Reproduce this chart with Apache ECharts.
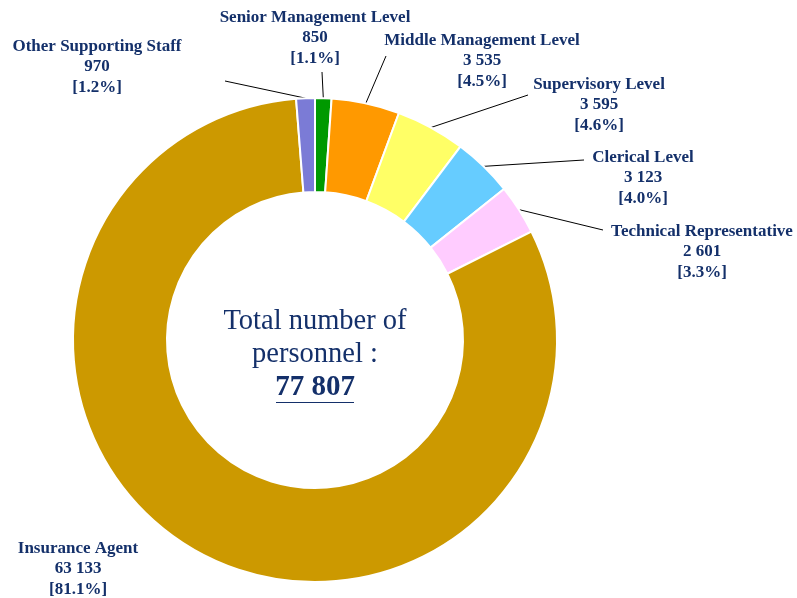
<!DOCTYPE html>
<html>
<head>
<meta charset="utf-8">
<script src="https://cdn.jsdelivr.net/npm/echarts@6/dist/echarts.min.js"></script>
<style>
  html, body { margin: 0; padding: 0; background: #fff; }
  #chart { width: 797px; height: 598px; }
</style>
</head>
<body>
<div id="chart"></div>
<script>
// data
var categories = ['Senior Management Level', 'Middle Management Level', 'Supervisory Level',
    'Clerical Level', 'Technical Representative', 'Insurance Agent', 'Other Supporting Staff'];
var personnel = [850, 3535, 3595, 3123, 2601, 63133, 970];
var colors = ['#009900', '#FF9900', '#FFFF66', '#66CCFF', '#FFCCFF', '#CC9900', '#7B7BD6'];

// label placement (centre of each label block) and label line end
var labelPos = [[315, 38], [482, 61], [599, 105], [643, 178], [702, 252], [78, 569], [97, 67]];
var lineEnd = [[322, 72], [386, 56], [528, 95], [584, 160], [603, 230], null, [225, 81]];

var navy = '#14306A';
var serif = '"Liberation Serif", "Times New Roman", serif';
var total = personnel.reduce(function(a, b) { return a + b; }, 0);

function fmt(n) {
    return String(n).replace(/\B(?=(\d{3})+(?!\d))/g, ' ');
}

var chart = echarts.init(document.getElementById('chart'));

var seriesData = categories.map(function(name, i) {
    return {
        name: name,
        value: personnel[i],
        itemStyle: { color: colors[i] },
        labelLine: { show: lineEnd[i] != null }
    };
});

var option = {
    animation: false,
    series: [{
        type: 'pie',
        center: [315, 340],
        radius: [148, 242],
        startAngle: 90,
        clockwise: true,
        data: seriesData,
        itemStyle: { borderColor: '#fff', borderWidth: 2 },
        label: {
            show: true,
            position: 'outside',
            color: navy,
            fontFamily: serif,
            fontWeight: 'bold',
            fontSize: 17,
            lineHeight: 20.5,
            align: 'center',
            formatter: function(p) {
                return p.name + '\n' + fmt(p.value) + '\n[' + (p.value / total * 100).toFixed(1) + '%]';
            }
        },
        labelLine: {
            show: true,
            length: 20,
            length2: 0,
            lineStyle: { color: '#000', width: 1 }
        },
        labelLayout: function(params) {
            var i = params.dataIndex;
            var res = {
                x: labelPos[i][0],
                y: labelPos[i][1],
                align: 'center',
                verticalAlign: 'middle'
            };
            if (lineEnd[i] && params.labelLinePoints) {
                res.labelLinePoints = [params.labelLinePoints[0], lineEnd[i]];
            }
            return res;
        }
    }],
    graphic: [
        {
            type: 'text',
            x: 315, y: 322,
            style: {
                text: 'Total number of',
                fill: navy,
                font: '28.5px ' + serif,
                align: 'center',
                verticalAlign: 'middle'
            }
        },
        {
            type: 'text',
            x: 315, y: 355,
            style: {
                text: 'personnel :',
                fill: navy,
                font: '28.5px ' + serif,
                align: 'center',
                verticalAlign: 'middle'
            }
        },
        {
            type: 'text',
            x: 315, y: 388,
            style: {
                text: fmt(total),
                fill: navy,
                font: 'bold 29px ' + serif,
                align: 'center',
                verticalAlign: 'middle'
            }
        },
        {
            type: 'line',
            shape: { x1: 276, y1: 402.5, x2: 354, y2: 402.5 },
            style: { stroke: navy, lineWidth: 1 }
        }
    ]
};

chart.setOption(option);
</script>
</body>
</html>
